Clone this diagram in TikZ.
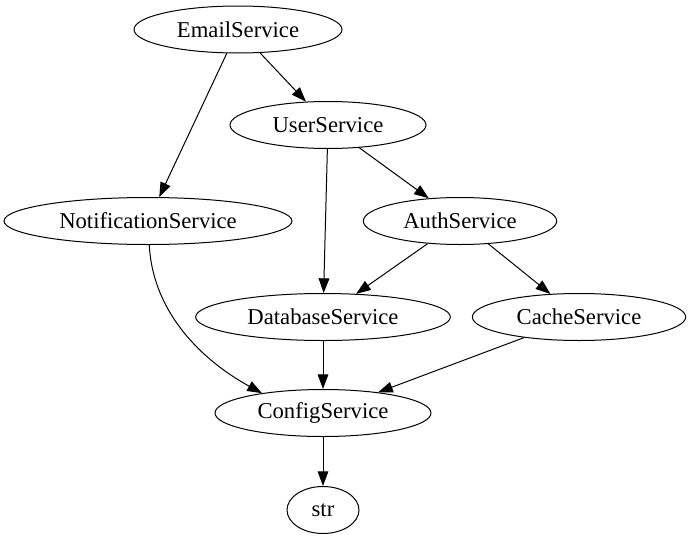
\documentclass[tikz,border=0pt]{standalone}
\usepackage{fontspec}
\setmainfont{Liberation Serif}
\usetikzlibrary{arrows.meta,shapes.geometric}

\tikzset{every picture/.style={line width=0.75pt}}
\tikzset{
  svc/.style={draw, ellipse, inner sep=0pt, minimum height=35.25pt, font=\fontsize{17}{20}\selectfont},
  dep/.style={-{Triangle[length=11pt,width=8pt]}}
}

\begin{document}
\begin{tikzpicture}[x=0.75pt,y=0.75pt,yscale=-1,xscale=1]
    \useasboundingbox (0,0) rectangle (691,539);

    % Service nodes
    \node [svc, minimum width=156pt] (email) at (238,29.5) {EmailService};
    \node [svc, minimum width=147pt] (user) at (328,125) {UserService};
    \node [svc, minimum width=216pt] (notif) at (148,221) {NotificationService};
    \node [svc, minimum width=145pt] (auth) at (460,221) {AuthService};
    \node [svc, minimum width=191pt] (db) at (323,317) {DatabaseService};
    \node [svc, minimum width=160pt] (cache) at (579,317) {CacheService};
    \node [svc, minimum width=162pt] (config) at (323,413) {ConfigService};
    \node [svc, minimum width=54pt] (str) at (323,510) {str};

    % Dependencies
    \draw [dep] (email) -- (user);
    \draw [dep] (email) -- (notif);
    \draw [dep] (user) -- (db);
    \draw [dep] (user) -- (auth);
    \draw [dep] (notif) .. controls (153,315) and (205,362) .. (config.162);
    \draw [dep] (auth) -- (db);
    \draw [dep] (auth) -- (cache);
    \draw [dep] (db) -- (config);
    \draw [dep] (cache) -- (config);
    \draw [dep] (config) -- (str);
\end{tikzpicture}
\end{document}
